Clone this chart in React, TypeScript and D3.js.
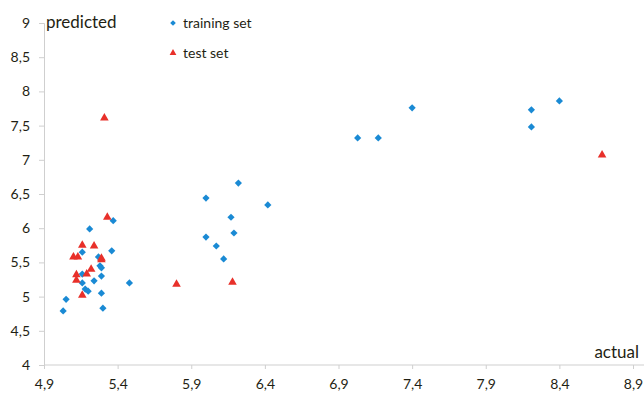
import * as d3 from 'd3';
import { useEffect, useRef } from 'react';

// training set: [actual, predicted]
const trainingActual = [
  5.03, 5.05, 5.16, 5.16, 5.18, 5.2, 5.24, 5.28, 5.29, 5.29, 5.29, 5.3, 5.48, 5.16, 5.27, 5.36,
  5.21, 5.37, 6.0, 6.22, 6.42, 6.17, 6.0, 6.19, 6.07, 6.12, 7.4, 7.03, 7.17, 8.21, 8.4, 8.21,
];
const trainingPredicted = [
  4.79, 4.96, 5.33, 5.2, 5.11, 5.08, 5.23, 5.45, 5.42, 5.3, 5.05, 4.83, 5.2, 5.65, 5.58, 5.67,
  5.99, 6.11, 6.44, 6.66, 6.34, 6.16, 5.87, 5.93, 5.74, 5.55, 7.76, 7.32, 7.32, 7.73, 7.86, 7.48,
];

const testActual = [
  5.12, 5.12, 5.19, 5.22, 5.29, 5.16, 5.8, 5.33, 5.16, 5.24, 5.1, 5.13, 5.29, 5.31, 6.18, 8.69,
];
const testPredicted = [
  5.32, 5.24, 5.33, 5.4, 5.54, 5.02, 5.18, 6.16, 5.75, 5.74, 5.58, 5.58, 5.56, 7.61, 5.21, 7.07,
];

const xTicks = [4.9, 5.4, 5.9, 6.4, 6.9, 7.4, 7.9, 8.4, 8.9];
const yTicks = [4, 4.5, 5, 5.5, 6, 6.5, 7, 7.5, 8, 8.5, 9];

const BLUE = '#1a8ad4';
const RED = '#e8302a';
const TEXT = '#1f1f14';
const AXIS = '#cfcfcf';
const FONT = 'Lato, "Open Sans", sans-serif';

const width = 644;
const height = 397;

const fmt = (d: number) => String(d).replace('.', ',');

export default function App() {
  const svgRef = useRef<SVGSVGElement | null>(null);

  useEffect(() => {
    const svg = d3.select(svgRef.current);
    svg.selectAll('*').remove();

    const x = d3.scaleLinear().domain([4.9, 8.9]).range([44, 633]);
    const y = d3.scaleLinear().domain([4, 9]).range([365, 23]);

    // y axis
    const gy = svg
      .append('g')
      .attr('transform', `translate(${x(4.9)},0)`)
      .call(d3.axisLeft(y).tickValues(yTicks).tickFormat((d) => fmt(+d)).tickSize(5).tickPadding(9));
    gy.select('.domain').attr('stroke', AXIS);
    gy.selectAll('.tick line').attr('stroke', AXIS);
    gy.selectAll('.tick text')
      .attr('fill', TEXT)
      .style('font-family', FONT)
      .style('font-size', '14px');

    // x axis
    const gx = svg
      .append('g')
      .attr('transform', `translate(0,${y(4)})`)
      .call(d3.axisBottom(x).tickValues(xTicks).tickFormat((d) => fmt(+d)).tickSize(4).tickPadding(10));
    gx.select('.domain').attr('stroke', AXIS).attr('d', `M${x(4.9)},0H${width}`);
    gx.selectAll('.tick line').attr('stroke', AXIS);
    gx.selectAll('.tick text')
      .attr('fill', TEXT)
      .style('font-family', FONT)
      .style('font-size', '14px');

    const diamond = d3.symbol().type(d3.symbolSquare).size(26);
    const triangle = d3.symbol().type(d3.symbolTriangle).size(32);

    svg
      .append('g')
      .selectAll('path')
      .data(trainingActual.map((a, i) => [a, trainingPredicted[i]]))
      .enter()
      .append('path')
      .attr('d', diamond)
      .attr('fill', BLUE)
      .attr('transform', (d) => `translate(${x(d[0])},${y(d[1])}) rotate(45)`);

    svg
      .append('g')
      .selectAll('path')
      .data(testActual.map((a, i) => [a, testPredicted[i]]))
      .enter()
      .append('path')
      .attr('d', triangle)
      .attr('fill', RED)
      .attr('transform', (d) => `translate(${x(d[0])},${y(d[1])})`);

    // axis titles
    svg
      .append('text')
      .attr('x', 46)
      .attr('y', 28)
      .attr('fill', TEXT)
      .style('font-family', FONT)
      .style('font-size', '17px')
      .text('predicted');
    svg
      .append('text')
      .attr('x', 639)
      .attr('y', 358)
      .attr('text-anchor', 'end')
      .attr('fill', TEXT)
      .style('font-family', FONT)
      .style('font-size', '17px')
      .text('actual');

    // legend
    const legend = svg.append('g');
    legend
      .append('path')
      .attr('d', d3.symbol().type(d3.symbolSquare).size(16))
      .attr('fill', BLUE)
      .attr('transform', 'translate(173,23) rotate(45)');
    legend
      .append('text')
      .attr('x', 183)
      .attr('y', 28)
      .attr('fill', TEXT)
      .style('font-family', FONT)
      .style('font-size', '14px')
      .text('training set');
    legend
      .append('path')
      .attr('d', d3.symbol().type(d3.symbolTriangle).size(20))
      .attr('fill', RED)
      .attr('transform', 'translate(173,53)');
    legend
      .append('text')
      .attr('x', 183)
      .attr('y', 58)
      .attr('fill', TEXT)
      .style('font-family', FONT)
      .style('font-size', '14px')
      .text('test set');
  }, []);

  return (
    <svg
      ref={svgRef}
      width={width}
      height={height}
      style={{ position: 'absolute', left: 0, top: 0, background: '#fff' }}
    />
  );
}
